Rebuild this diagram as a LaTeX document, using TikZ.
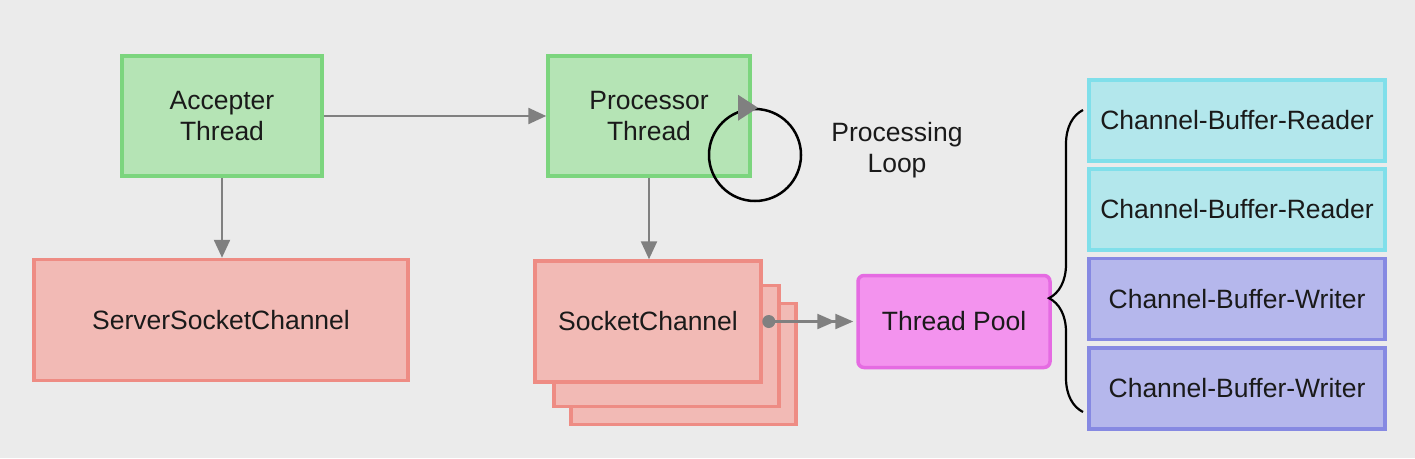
\documentclass[tikz,border=0pt]{standalone}
\usepackage{fontspec}
\setmainfont{Liberation Sans}
\usetikzlibrary{arrows.meta,decorations.pathreplacing}
\definecolor{bggray}{RGB}{235,235,235}
\definecolor{txtdark}{RGB}{26,26,26}
\definecolor{arrowgray}{RGB}{128,128,128}
\definecolor{greenfill}{RGB}{181,228,181}
\definecolor{greenline}{RGB}{124,213,126}
\definecolor{redfill}{RGB}{242,186,181}
\definecolor{redline}{RGB}{238,140,132}
\definecolor{pinkfill}{RGB}{243,147,238}
\definecolor{pinkline}{RGB}{229,107,226}
\definecolor{cyanfill}{RGB}{179,231,236}
\definecolor{cyanline}{RGB}{128,223,234}
\definecolor{bluefill}{RGB}{181,183,236}
\definecolor{blueline}{RGB}{134,137,226}

\begin{document}
\begin{tikzpicture}[x=1pt,y=-1pt,
  box/.style={rectangle,line width=3.5pt,text=txtdark,align=center,
    font=\fontsize{26.5}{31}\selectfont,inner sep=0pt},
  thread/.style={box,fill=greenfill,draw=greenline,minimum width=200,minimum height=120},
  chan/.style={box,fill=redfill,draw=redline,minimum height=121},
  reader/.style={box,fill=cyanfill,draw=cyanline,minimum width=296,minimum height=81},
  writer/.style={box,fill=bluefill,draw=blueline,minimum width=296,minimum height=81},
  garrow/.style={arrowgray,line width=2.4pt,-{Triangle[length=18pt,width=16pt]}}]
\fill[bggray] (0,0) rectangle (1415,458);
\useasboundingbox (0,0) rectangle (1415,458);
% threads
\node[thread] (acc) at (222,116) {Accepter\\Thread};
\node[thread,minimum width=202] (proc) at (649,116) {Processor\\Thread};
\node[chan,minimum width=374] (ssc) at (221,320) {ServerSocketChannel};
% stacked socket channels
\node[chan,minimum width=225] (sock3) at (683.5,364) {};
\node[chan,minimum width=225] (sock2) at (666.5,346) {};
\node[chan,minimum width=226] (sock) at (648,321.5) {SocketChannel};
\node[box,fill=pinkfill,draw=pinkline,rounded corners=6pt,minimum width=192,minimum height=92] (pool) at (954,321.5) {Thread Pool};
% workers
\node[reader] (r1) at (1237,120.5) {Channel-Buffer-Reader};
\node[reader] (r2) at (1237,209.5) {Channel-Buffer-Reader};
\node[writer] (w1) at (1237,299) {Channel-Buffer-Writer};
\node[writer] (w2) at (1237,388.5) {Channel-Buffer-Writer};
% arrows
\draw[garrow] (acc) -- (proc);
\draw[garrow] (acc.south) -- (acc.south |- ssc.north);
\draw[garrow] (proc.south) -- (proc.south |- sock.north);
\fill[arrowgray] (sock.east) ++(6,0) coordinate (dot) circle (6.5pt);
\draw[arrowgray,line width=2.4pt,shorten >=3pt,-{Triangle[length=18pt,width=15pt]Triangle[length=18pt,width=15pt]}] (dot) -- (dot -| pool.west);
% loop
\node[circle,draw=black,line width=2.5pt,minimum size=92,inner sep=0pt] (loop) at (755,155) {};
\fill[arrowgray] (loop.north) ++(3,0) -- ++(-20,-13) -- ++(0,26) -- cycle;
\node[text=txtdark,align=center,font=\fontsize{26.5}{31}\selectfont] (loopl) at (897,150) {Processing\\Loop};
% brace
\coordinate (bb) at (1083,412);
\coordinate (bt) at (1083,110);
\draw[black,line width=2.2pt,decorate,decoration={brace,amplitude=34pt,aspect=0.377}] (bb) -- (bt);
\end{tikzpicture}
\end{document}
